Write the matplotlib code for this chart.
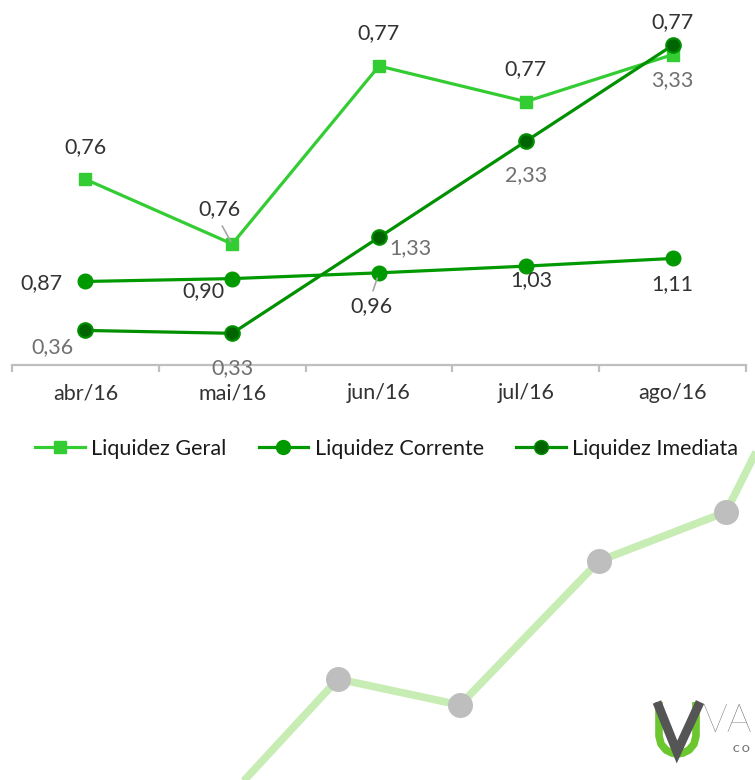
import matplotlib
matplotlib.use("Agg")
import matplotlib.pyplot as plt
from matplotlib.lines import Line2D

# ---------------- data ----------------
months = ["abr/16", "mai/16", "jun/16", "jul/16", "ago/16"]
liq_geral = [0.7610, 0.7570, 0.7680, 0.7658, 0.7687]      # secondary axis
liq_corrente = [0.87, 0.90, 0.96, 1.03, 1.11]
liq_imediata = [0.36, 0.33, 1.33, 2.33, 3.33]
series_names = ["Liquidez Geral", "Liquidez Corrente", "Liquidez Imediata"]

# decorative background (slide artwork)
deco_x = [240, 338, 460, 599, 726, 760]
deco_y = [785, 679, 705, 561, 512, 444]
logo_u_x = [659, 659, 661, 666, 672, 677, 683, 689, 694, 696, 696]
logo_u_y = [702, 736, 744, 750, 753, 754, 753, 750, 744, 736, 702]
logo_v_x = [657, 677, 700]
logo_v_y = [702, 752, 702]

# ---------------- style ----------------
FONT = ["Lato", "DejaVu Sans"]
plt.rcParams["font.family"] = FONT
FS = 15.5
c_geral = "#33CC33"
c_corr = "#009A00"
c_imed_line = "#009000"
c_imed_face = "#006400"
c_text = "#333333"
c_text2 = "#707070"

W, H = 755, 780
fig = plt.figure(figsize=(W / 100, H / 100), dpi=100)
fig.patch.set_facecolor("white")

# background decoration axes
bg = fig.add_axes([0, 0, 1, 1], zorder=0)
bg.set_xlim(0, W)
bg.set_ylim(H, 0)
bg.axis("off")
bg.plot(deco_x, deco_y, color="#C8EDB4", lw=5.5, solid_capstyle="butt", zorder=1)
bg.plot(deco_x[1:-1], deco_y[1:-1], "o", ms=18, color="#BEBEBE", mec="none", zorder=2)
bg.plot(logo_u_x, logo_u_y, color="#6CC62E", lw=5.5, solid_capstyle="butt",
        solid_joinstyle="round", zorder=3)
bg.plot(logo_v_x, logo_v_y, color="#555555", lw=6.5, solid_capstyle="butt",
        solid_joinstyle="miter", zorder=4)
bg.text(702, 721, "VA", fontsize=28, color="#666666", ha="left", va="center",
        fontweight="light", family=FONT)
bg.text(733, 750, "C O", fontsize=7, color="#777777", ha="left", va="center",
        fontweight="bold", family=FONT)

# chart axes
left, right = 12 / W, 746 / W
bottom, top = 1 - 365 / H, 1 - 5 / H
ax = fig.add_axes([left, bottom, right - left, top - bottom], zorder=3)
ax2 = ax.twinx()
ax2.set_zorder(2)
ax.set_zorder(3)
ax.patch.set_visible(False)
ax2.patch.set_visible(False)

x = list(range(len(months)))
ax.set_xlim(-0.5, len(months) - 0.5)
ax.set_ylim(0, 3.75)
ax2.set_ylim(0.74952, 0.77177)

l_geral, = ax2.plot(x, liq_geral, color=c_geral, lw=2.3, marker="s", ms=9,
                    mfc=c_geral, mec=c_geral, label=series_names[0])
l_corr, = ax.plot(x, liq_corrente, color=c_corr, lw=2.3, marker="o", ms=10.5,
                  mfc=c_corr, mec=c_corr, label=series_names[1])
l_imed, = ax.plot(x, liq_imediata, color=c_imed_line, lw=2.3, marker="o", ms=10.5,
                  mfc=c_imed_face, mec=c_imed_line, mew=1.5, label=series_names[2])

# spines / ticks
for a in (ax, ax2):
    for s in ("left", "right", "top"):
        a.spines[s].set_visible(False)
    a.set_yticks([])
ax2.spines["bottom"].set_visible(False)
ax.spines["bottom"].set_color("#BFBFBF")
ax.spines["bottom"].set_linewidth(1.6)
ax.set_xticks([i - 0.5 for i in range(len(months) + 1)])
ax.set_xticklabels([])
ax.tick_params(axis="x", which="major", length=5, width=1.6, color="#BFBFBF",
               direction="out")
ax.set_xticks(x, minor=True)
ax.set_xticklabels(months, minor=True)
ax.tick_params(axis="x", which="minor", length=0, pad=13, labelsize=FS,
               labelcolor=c_text)


def fmt(v):
    return f"{v:.2f}".replace(".", ",")


geral_off = [(0, 32), (-13, 35), (0, 33), (0, 32), (0, 33)]
corr_off = [(-44, -2), (-29, -12), (-8, -33), (6, -14), (0, -26)]
imed_off = [(-33, -17), (0, -35), (31, -11), (0, -34), (0, -35)]

for i, v in enumerate(liq_geral):
    dx, dy = geral_off[i]
    ax2.annotate(fmt(v), (x[i], v), xytext=(dx, dy), textcoords="offset pixels",
                 ha="center", va="center", fontsize=FS, color=c_text)
for i, v in enumerate(liq_corrente):
    dx, dy = corr_off[i]
    ax.annotate(fmt(v), (x[i], v), xytext=(dx, dy), textcoords="offset pixels",
                ha="center", va="center", fontsize=FS, color=c_text)
for i, v in enumerate(liq_imediata):
    dx, dy = imed_off[i]
    ax.annotate(fmt(v), (x[i], v), xytext=(dx, dy), textcoords="offset pixels",
                ha="center", va="center", fontsize=FS, color=c_text2)

# leader lines (mai Geral, jun Corrente)
ax2.annotate("", (x[1], liq_geral[1]), xytext=(-10, 18), textcoords="offset pixels",
             arrowprops=dict(arrowstyle="-", color="#A6A6A6", lw=1.2,
                             shrinkA=0, shrinkB=2))
ax.annotate("", (x[2], liq_corrente[2]), xytext=(-6, -18), textcoords="offset pixels",
            arrowprops=dict(arrowstyle="-", color="#A6A6A6", lw=1.2,
                            shrinkA=0, shrinkB=4))

# legend
h_geral = Line2D([], [], color=c_geral, lw=2.3, marker="s", ms=9, mec=c_geral)
h_corr = Line2D([], [], color=c_corr, lw=2.3, marker="o", ms=10, mec=c_corr)
h_imed = Line2D([], [], color=c_imed_line, lw=2.3, marker="o", ms=10,
                mfc=c_imed_face, mec=c_imed_line)
leg = fig.legend([h_geral, h_corr, h_imed], series_names, loc="center",
                 bbox_to_anchor=(0.512, 1 - 449 / H), ncol=3, frameon=False,
                 fontsize=FS, handlelength=2.3, handletextpad=0.3,
                 columnspacing=1.5, labelcolor="#1a1a1a")
leg.set_zorder(5)

fig.savefig("out.png", dpi=100, facecolor="white")
